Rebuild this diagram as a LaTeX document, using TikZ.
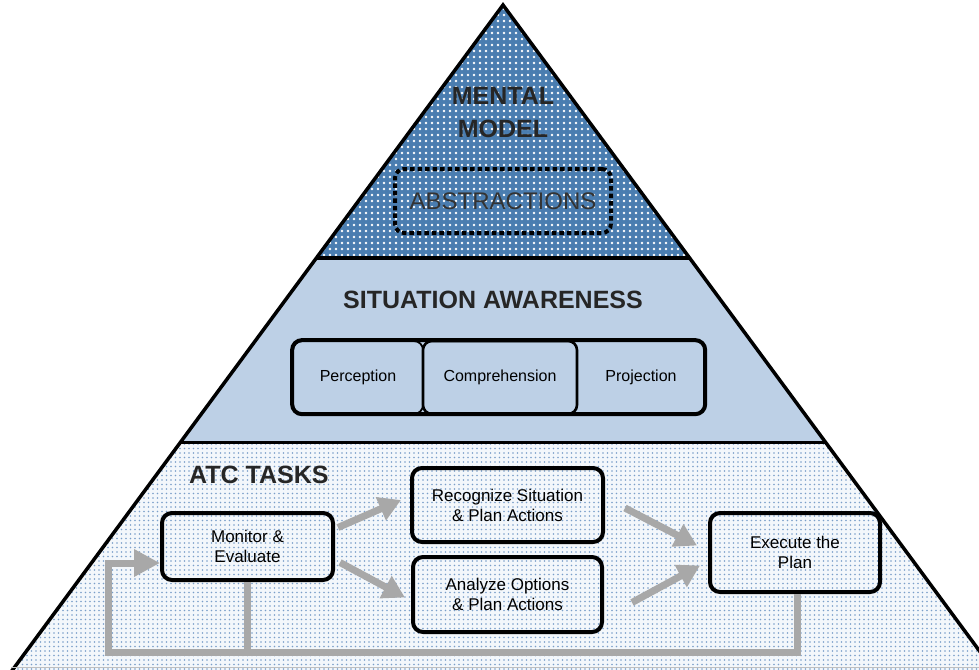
\documentclass[tikz,border=0pt]{standalone}
\usepackage{fontspec}
\setmainfont{Liberation Sans}
\usetikzlibrary{arrows.meta,patterns.meta,calc}
\definecolor{topblue}{HTML}{4A7DB0}
\definecolor{midblue}{HTML}{BDD0E6}
\definecolor{lowfill}{HTML}{F3F7FB}
\definecolor{dotblue}{HTML}{7A9FC9}
\definecolor{loopgray}{HTML}{A8A8A8}
\definecolor{titlegray}{HTML}{262626}
\definecolor{absgray}{HTML}{333333}
\begin{document}
\begin{tikzpicture}[x=1pt,y=-1pt,
  ttl/.style={font=\fontsize{25}{33}\selectfont\bfseries, text=titlegray, align=center, inner sep=0pt},
  absbox/.style={draw=black, line width=4pt, dash pattern=on 4.5pt off 3pt, rounded corners=9pt,
     minimum width=216pt, minimum height=64pt, font=\fontsize{24}{28}\selectfont, text=absgray},
  sabox/.style={draw=black, line width=1.8pt, rounded corners=9pt, minimum height=73pt,
     font=\fontsize{16}{20}\selectfont, inner sep=0pt},
  atcbox/.style={draw=black, line width=4pt, rounded corners=10pt, align=center,
     font=\fontsize{17}{20}\selectfont, inner sep=0pt},
  garrow/.style={draw=loopgray, line width=7pt, -{Triangle[width=24pt,length=22pt]}},
  gloop/.style={draw=loopgray, line width=7pt, line join=miter}
]
\useasboundingbox (0,0) rectangle (979,669);
\begin{scope}
\clip (0,0) rectangle (979,669);
% bands
\fill[topblue] (503,5) -- (316.5,258) -- (689.5,258) -- cycle;
\fill[pattern={Dots[distance=6pt,radius=1.4pt]}, pattern color=white] (503,5) -- (316.5,258) -- (689.5,258) -- cycle;
\fill[midblue] (316.5,258) -- (181,442) -- (825,442) -- (689.5,258) -- cycle;
\fill[lowfill] (181,442) -- (11,672) -- (995,672) -- (825,442) -- cycle;
\fill[pattern={Dots[distance=4.5pt,radius=0.8pt]}, pattern color=dotblue] (181,442) -- (11,672) -- (995,672) -- (825,442) -- cycle;
\draw[line width=3.5pt, line join=miter] (11,672) -- (503,5) -- (995,672);
\draw[line width=3.5pt] (316.5,258) -- (689.5,258);
\draw[line width=3pt] (181,442) -- (825,442);
\draw[line width=1.5pt, draw=black!25] (11,667.5) -- (990,667.5);
\end{scope}

% titles
\node[ttl] (mm) at (503,113) {MENTAL\\MODEL};
\node[absbox] (abs) at (503,201) {ABSTRACTIONS};
\node[ttl] (sa) at (493,300) {SITUATION AWARENESS};
\node[ttl, anchor=west] (atc) at (189,475) {ATC TASKS};

% situation awareness boxes
\node[sabox, minimum width=130pt] (perc) at (358,377.5) {Perception};
\node[sabox, minimum width=154pt, line width=2.6pt] (comp) at (500,377.5) {Comprehension};
\node[minimum width=128pt, minimum height=73pt, font=\fontsize{16}{20}\selectfont, inner sep=0pt] (proj) at (641,377.5) {Projection};
\draw[line width=4pt, rounded corners=10pt] (perc.north west) rectangle (proj.south east);

% ATC task boxes
\node[atcbox, minimum width=171pt, minimum height=67pt] (mon) at (247.5,546.5) {Monitor \&\\Evaluate};
\node[atcbox, minimum width=191pt, minimum height=74pt] (rec) at (507.5,505) {Recognize Situation\\\& Plan Actions};
\node[atcbox, minimum width=189pt, minimum height=75pt] (ana) at (507.5,594.5) {Analyze Options\\\& Plan Actions};
\node[atcbox, minimum width=170pt, minimum height=79pt] (exe) at (795,552.5) {Execute the\\Plan};

% flow arrows
\draw[garrow] ($(mon.east)+(3,-19)$) -- ($(rec.west)+(-9,-5)$);
\draw[garrow] ($(mon.east)+(5,16)$) -- ($(ana.west)+(-6,3)$);
\draw[garrow] ($(rec.east)+(20,3)$) -- ($(exe.west)+(-11,-7)$);
\draw[garrow] ($(ana.east)+(28,8)$) -- ($(exe.west)+(-8,13)$);

% feedback loop
\coordinate (lpr) at (797,652);
\coordinate (lpl) at (108,652);
\coordinate (lpt) at (108,563);
\draw[gloop, -{Triangle[width=26pt,length=26pt]}] (exe.south -| lpr) -- (lpr) -- (lpl) -- (lpt) -- (lpt -| mon.west);
\draw[gloop] (mon.south) -- (mon.south |- lpl);
\end{tikzpicture}
\end{document}
